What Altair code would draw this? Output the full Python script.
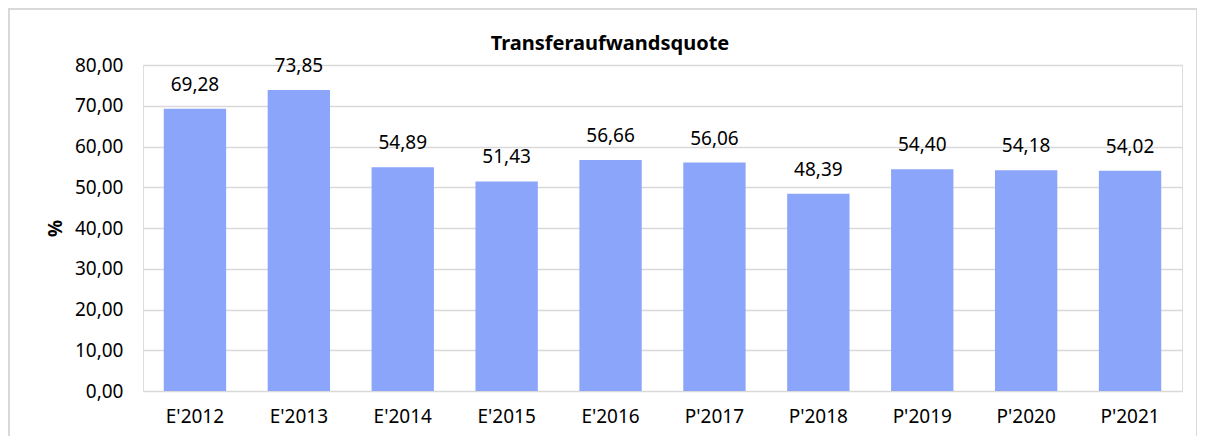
import altair as alt
import pandas as pd

categories = ["E'2012", "E'2013", "E'2014", "E'2015", "E'2016",
              "P'2017", "P'2018", "P'2019", "P'2020", "P'2021"]
values = [69.28, 73.85, 54.89, 51.43, 56.66, 56.06, 48.39, 54.40, 54.18, 54.02]
chart_title = "Transferaufwandsquote"

df = pd.DataFrame({"jahr": categories, "quote": values})

FONT = "Noto Sans"
FS = 19
W, H = 1039, 326

base = alt.Chart(df).encode(
    x=alt.X("jahr:N", sort=categories, title=None,
            scale=alt.Scale(paddingInner=0.4, paddingOuter=0.2),
            axis=alt.Axis(labelAngle=0, labelPadding=16, ticks=False, domain=False,
                          labelFont=FONT, labelFontSize=FS, labelColor="#000000")),
    y=alt.Y("quote:Q", title="%",
            scale=alt.Scale(domain=[0, 80], nice=False),
            axis=alt.Axis(values=list(range(0, 81, 10)), ticks=False, domain=False,
                          labelExpr="replace(format(datum.value, '.2f'), '.', ',')",
                          labelPadding=20, labelFont=FONT, labelFontSize=FS,
                          labelColor="#000000", gridColor="#D9D9D9", gridWidth=1.3,
                          titleFont=FONT, titleFontSize=19, titleFontWeight="bold",
                          titleColor="#000000", titlePadding=9)),
)

bars = base.mark_bar(color="#8AA5FA")
labels = base.transform_calculate(
    lab="replace(format(datum.quote, '.2f'), '.', ',')"
).mark_text(baseline="bottom", dy=-14, font=FONT, fontSize=FS, color="#000000").encode(
    text="lab:N")

border = alt.Chart(df).mark_rect(fillOpacity=0, stroke="#D9D9D9", strokeWidth=1.5).encode(
    x=alt.value(-134), x2=alt.value(1054), y=alt.value(-56), y2=alt.value(470))

title_df = pd.DataFrame({"t": [chart_title]})
title = alt.Chart(title_df).mark_text(
    font=FONT, fontSize=20, fontWeight="bold", color="#000000",
    align="center", baseline="middle").encode(
    text="t:N", x=alt.value(467), y=alt.value(-21))

chart = alt.layer(border, bars, labels, title).properties(
    width=W, height=H,
    autosize=alt.AutoSizeParams(type="none"),
    padding={"left": 135, "top": 57, "right": 15, "bottom": 45},
).configure_view(stroke=None).configure(background="#FFFFFF")

chart.save("out.html", embed_options={"renderer": "svg", "actions": False})
